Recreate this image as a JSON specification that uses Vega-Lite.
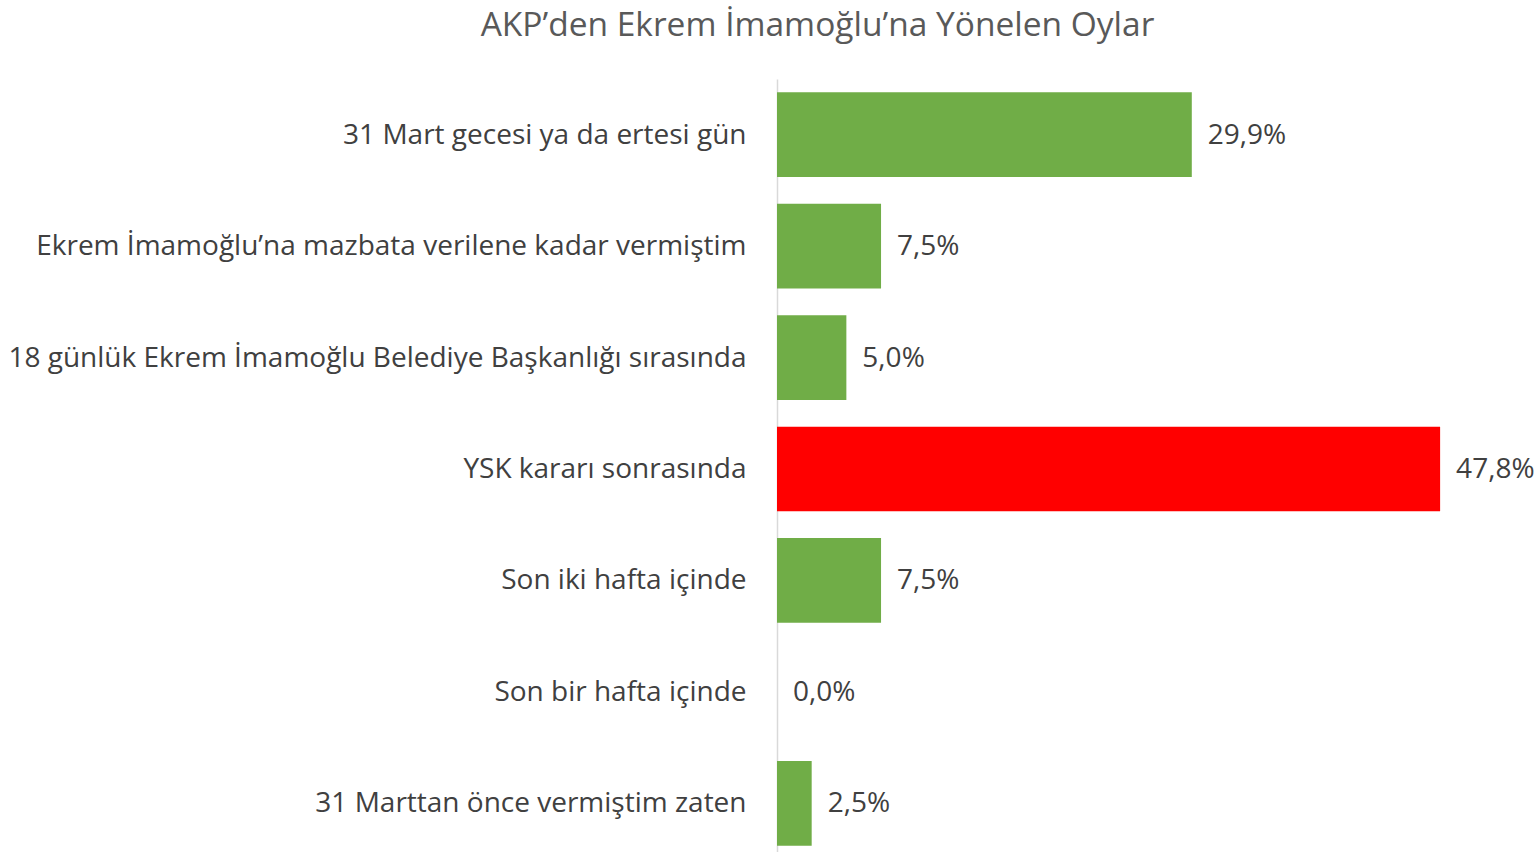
{
  "$schema": "https://vega.github.io/schema/vega-lite/v6.json",
  "autosize": {"type": "none"},
  "width": 763,
  "height": 780,
  "padding": {"left": 777, "top": 79, "right": 0, "bottom": 0},
  "background": "white",
  "title": {
    "text": "AKP’den Ekrem İmamoğlu’na Yönelen Oylar",
    "font": "Open Sans",
    "fontSize": 33.5,
    "fontWeight": "normal",
    "color": "#595959",
    "anchor": "middle",
    "dx": -341,
    "offset": 36
  },
  "data": {
    "values": [
      {"kategori": "31 Mart gecesi ya da ertesi gün", "oran": 0.299, "vurgu": "hayır"},
      {"kategori": "Ekrem İmamoğlu’na mazbata verilene kadar vermiştim", "oran": 0.075, "vurgu": "hayır"},
      {"kategori": "18 günlük Ekrem İmamoğlu Belediye Başkanlığı sırasında", "oran": 0.05, "vurgu": "hayır"},
      {"kategori": "YSK kararı sonrasında", "oran": 0.478, "vurgu": "evet"},
      {"kategori": "Son iki hafta içinde", "oran": 0.075, "vurgu": "hayır"},
      {"kategori": "Son bir hafta içinde", "oran": 0.0, "vurgu": "hayır"},
      {"kategori": "31 Marttan önce vermiştim zaten", "oran": 0.025, "vurgu": "hayır"}
    ]
  },
  "encoding": {
    "y": {
      "field": "kategori",
      "type": "nominal",
      "sort": null,
      "scale": {"paddingInner": 0.24, "paddingOuter": 0.12},
      "axis": {
        "title": null,
        "ticks": false,
        "domainColor": "#D9D9D9",
        "domainWidth": 1.5,
        "labelFont": "Open Sans",
        "labelFontSize": 28,
        "labelColor": "#404040",
        "labelPadding": 31,
        "labelLimit": 0,
        "labelOffset": 1
      }
    },
    "x": {
      "field": "oran",
      "type": "quantitative",
      "scale": {"domain": [0, 0.55], "nice": false},
      "axis": null
    }
  },
  "layer": [
    {
      "mark": {"type": "bar"},
      "encoding": {
        "color": {
          "field": "vurgu",
          "type": "nominal",
          "scale": {"domain": ["hayır", "evet"], "range": ["#70AD47", "#FF0000"]},
          "legend": null
        }
      }
    },
    {
      "mark": {"type": "text", "align": "left", "baseline": "middle", "dx": 16, "dy": 1, "font": "Open Sans", "fontSize": 28, "color": "#404040"},
      "encoding": {
        "text": {"field": "oran", "type": "quantitative", "format": ".1%"}
      }
    }
  ],
  "config": {
    "view": {"stroke": null},
    "locale": {
      "number": {"decimal": ",", "thousands": ".", "grouping": [3], "currency": ["", " TL"]}
    }
  }
}
